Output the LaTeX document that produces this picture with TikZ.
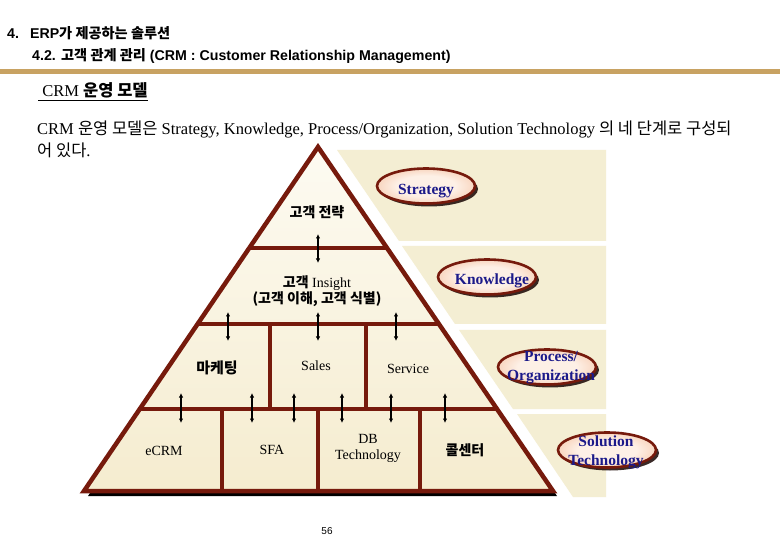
\documentclass[tikz,border=0pt]{standalone}
\usepackage{fontspec}
\setmainfont{Liberation Serif}
\setsansfont{Liberation Sans}
\newfontfamily\kr{Noto Sans CJK KR}
\usetikzlibrary{arrows.meta,shapes.geometric,shadows}
\definecolor{brn}{HTML}{761A0C}
\definecolor{panel}{HTML}{F4EED3}
\definecolor{pyrtop}{HTML}{FDFBF2}
\definecolor{pyrbot}{HTML}{F5ECCF}
\definecolor{gold}{HTML}{C8A262}
\definecolor{navy}{HTML}{1C1A8A}
\definecolor{salmon}{HTML}{EE9A68}
\definecolor{peach}{HTML}{FDF0E6}
\pgfdeclareradialshading{ovalshade}{\pgfpoint{0bp}{0bp}}{color(0bp)=(peach); color(15bp)=(peach); color(35bp)=(peach!40!salmon); color(48bp)=(salmon); color(100bp)=(salmon)}
\tikzset{
  brnline/.style={draw=brn, line width=4.5pt},
  dbl/.style={{Latex[length=4.5pt,width=4.5pt]}-{Latex[length=4.5pt,width=4.5pt]}, line width=1.3pt, draw=black},
  oval/.style={ellipse, draw=brn, line width=2.6pt, shading=ovalshade,
    minimum width=98pt, minimum height=35pt, inner sep=0pt,
    drop shadow={shadow xshift=3pt, shadow yshift=-3pt, opacity=0.85, fill=black!80!brn}},
  ovaltext/.style={text=navy, font=\bfseries\fontsize{15.5}{19}\selectfont, align=center, inner sep=0pt},
  pyrtext/.style={font=\fontsize{14}{16}\selectfont, align=center, inner sep=0pt},
  krbold/.style={font=\kr\bfseries\fontsize{14}{16}\selectfont, align=center, inner sep=0pt},
  paneltile/.style={fill=panel, draw=none},
  headtext/.style={anchor=base west, inner sep=0pt, font=\sffamily\bfseries\fontsize{14.2}{16}\selectfont},
  paratext/.style={anchor=base west, inner sep=0pt, font=\fontsize{16.5}{18}\selectfont},
}
\begin{document}
\begin{tikzpicture}[x=1pt,y=-1pt]
\useasboundingbox (0,0) rectangle (780,540);
\fill[white] (0,0) rectangle (780,540);

% header
\node[headtext] (h1) at (7,39) {4.\hspace{11pt}ERP{\kr\bfseries 가 제공하는 솔루션}};
\node[headtext] (h2) at (32,61) {4.2. {\kr\bfseries 고객 관계 관리} (CRM : Customer Relationship Management)};
\fill[gold] (0,69.5) rectangle (780,74);

\node[anchor=base west, inner sep=0pt, font=\fontsize{16.5}{18}\selectfont] (title) at (38,97)
  {\underline{\ CRM {\kr\bfseries 운영 모델}}};

\node[paratext] (p1) at (37,135)
  {CRM {\kr 운영 모델은} Strategy, Knowledge, Process/Organization, Solution Technology {\kr 의 네 단계로 구성되}};
\node[paratext] (p2) at (37,157) {{\kr 어 있다}.};

% right panels
\fill[paneltile] (337,150) -- (606,150) -- (606,241) -- (399,241) -- cycle;
\fill[paneltile] (402,246) -- (606,246) -- (606,324) -- (455,324) -- cycle;
\fill[paneltile] (459,330) -- (606,330) -- (606,409) -- (513,409) -- cycle;
\fill[paneltile] (517,414) -- (606,414) -- (606,497) -- (573,497) -- cycle;

% pyramid
\coordinate (apex) at (318,147);
\coordinate (bl) at (84,491);
\coordinate (br) at (553,491);
\fill[black] ([shift={(4,5)}]apex) -- ([shift={(4,5)}]bl) -- ([shift={(4,5)}]br) -- cycle;
\shade[top color=pyrtop, bottom color=pyrbot] (apex) -- (bl) -- (br) -- cycle;
\begin{scope}
  \clip (apex) -- (bl) -- (br) -- cycle;
  \draw[brnline] (0,248) -- (780,248);
  \draw[brnline] (0,324) -- (780,324);
  \draw[brnline] (0,409) -- (780,409);
  \draw[brnline] (270,324) -- (270,409);
  \draw[brnline] (366,324) -- (366,409);
  \draw[brnline] (222,409) -- (222,491);
  \draw[brnline] (318,409) -- (318,491);
  \draw[brnline] (420,409) -- (420,491);
\end{scope}
\draw[brnline, line join=miter] (apex) -- (bl) -- (br) -- cycle;

% pyramid texts
\node[krbold] (strat) at (317,212) {고객 전략};
\node[pyrtext] (insight) at (317,283) {{\kr\bfseries 고객} Insight};
\node[krbold] (insight2) at (317,299) {(고객 이해, 고객 식별)};
\node[krbold, font=\kr\bfseries\fontsize{15}{17}\selectfont] (mkt) at (217,368) {마케팅};
\node[pyrtext] (sales) at (316,366) {Sales};
\node[pyrtext] (service) at (408,369) {Service};
\node[pyrtext] (ecrm) at (164,451) {eCRM};
\node[pyrtext] (sfa) at (272,450) {SFA};
\node[pyrtext] (db) at (368,448) {DB\\Technology};
\node[krbold] (call) at (465,450) {콜센터};

% arrows
\foreach \n/\x/\a/\b in {a1/318/234/263,
  b1/228/312/341, b2/318/312/341, b3/396/312/341,
  c1/181/393/423, c2/252/393/423, c3/294/393/423, c4/342/393/423, c5/391/393/423, c6/445/393/423}{
  \coordinate (\n t) at (\x,\a);
  \coordinate (\n b) at (\x,\b);
  \draw[dbl] (\n t) -- (\n b);
}

% ovals
\node[oval] (o1) at (426,186) {};
\node[ovaltext] (t1) at (426,191) {Strategy};
\node[oval] (o2) at (487,277) {};
\node[ovaltext] (t2) at (492,281) {Knowledge};
\node[oval] (o3) at (547,367) {};
\node[ovaltext] (t3) at (551,368) {Process/\\Organization};
\node[oval] (o4) at (607,450) {};
\node[ovaltext] (t4) at (606,452) {Solution\\Technology};

% page number
\node[inner sep=0pt, font=\sffamily\fontsize{10}{12}\selectfont] (pg) at (327,531) {56};
\end{tikzpicture}
\end{document}
